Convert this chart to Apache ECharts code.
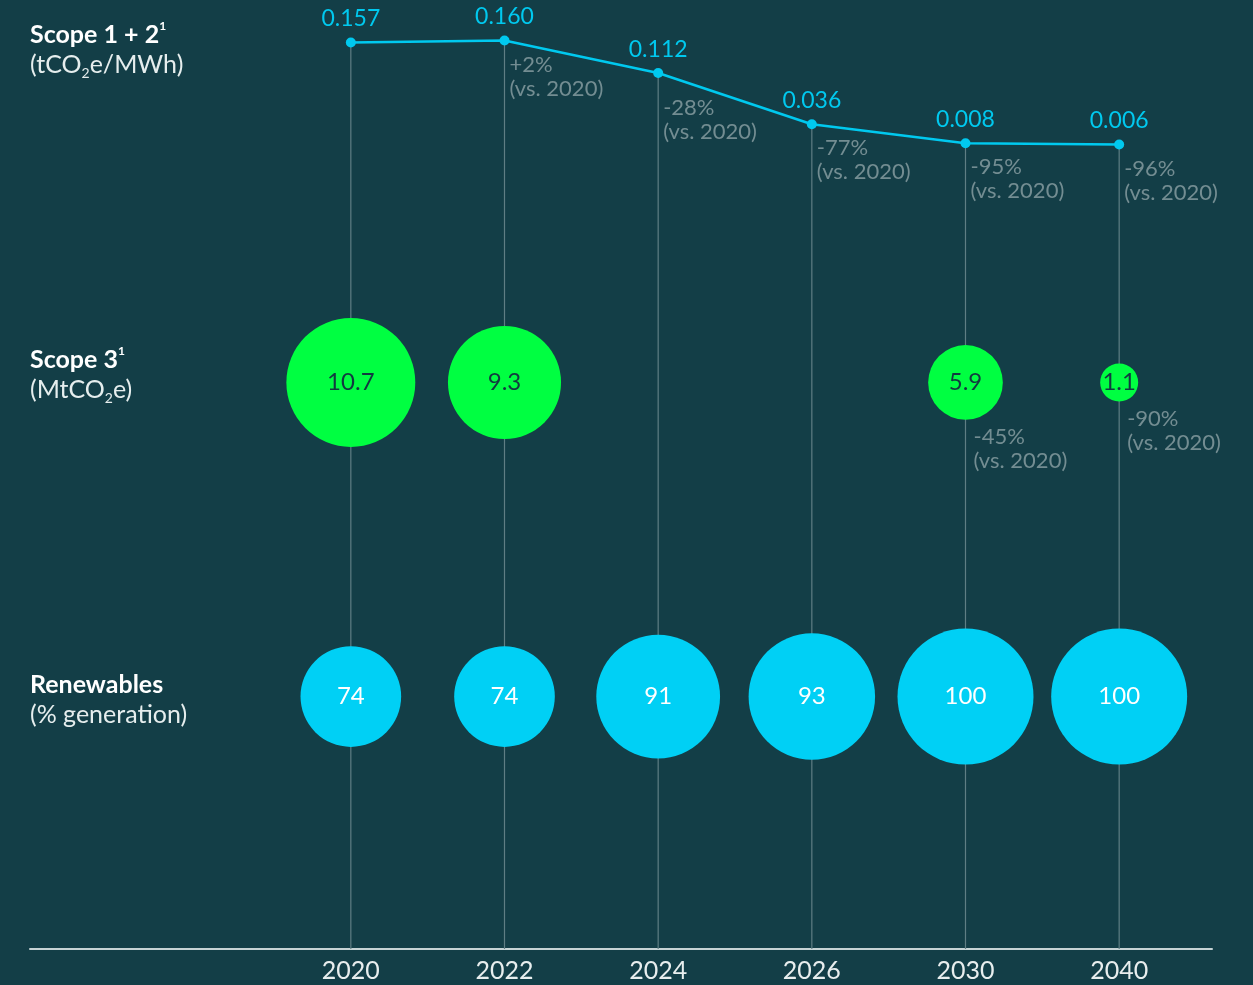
<!DOCTYPE html>
<html>
<head>
<meta charset="utf-8">
<title>Emissions targets</title>
<script src="https://cdn.jsdelivr.net/npm/echarts@6/dist/echarts.min.js"></script>
<style>
	html, body { margin: 0; padding: 0; background: #133e47; }
	#chart01 { width: 1253px; height: 985px; }
</style>
</head>
<body>
<div id="chart01"></div>
<script>
// 데이터
const years = ['2020', '2022', '2024', '2026', '2030', '2040'];
const intensity = [0.157, 0.160, 0.112, 0.036, 0.008, 0.006];           // Scope 1 + 2 (tCO2e/MWh)
const intensityChange = [null, '+2%', '-28%', '-77%', '-95%', '-96%'];
const scope3 = [10.7, 9.3, null, null, 5.9, 1.1];                        // Scope 3 (MtCO2e)
const scope3Change = [null, null, null, null, '-45%', '-90%'];
const renewables = [74, 74, 91, 93, 100, 100];                           // % generation

const FONT = 'Lato';
const BG = '#133e47';
const CYAN = '#00c9ef';
const BUBBLE_CYAN = '#00d0f5';
const GREEN = '#00ff41';
const GREY_TEXT = '#8ca1a5';

// 축 범위 (line 축) / bubble 행 위치
const lineMin = -1.185, lineMax = 0.22;
const scope3Row = 59.7, renewRow = 26.6;

const scope3Size = v => Math.max(8 + v * 11.3, 38);
const renewSize = v => v * 1.36;

const toItems = (arr, row) => arr
	.map((v, i) => (v == null ? null : [i, row, v]))
	.filter(d => d);

const vsLabel = txt => txt ? `${txt}\n(vs. 2020)` : '';

// 좌측 행 제목용 rich 스타일
const titleRich = {
	b: { fontFamily: FONT, fontWeight: 'bold', fontSize: 25, color: '#ffffff', lineHeight: 30 },
	sup: { fontFamily: FONT, fontWeight: 'bold', fontSize: 12, color: '#ffffff', verticalAlign: 'top', lineHeight: 22 },
	n: { fontFamily: FONT, fontWeight: 'normal', fontSize: 25, color: '#e6eeee', lineHeight: 30 },
	sub: { fontFamily: FONT, fontWeight: 'normal', fontSize: 14, color: '#e6eeee', verticalAlign: 'bottom', lineHeight: 16 },
};

const option = {
	backgroundColor: BG,
	animation: false,
	textStyle: { fontFamily: FONT },
	title: [
		{
			left: 30, top: 20, padding: 0,
			text: '{b|Scope 1 + 2}{sup|1}\n{n|(tCO}{sub|2}{n|e/MWh)}',
			textStyle: { fontWeight: 'normal', rich: titleRich },
		},
		{
			left: 30, top: 345, padding: 0,
			text: '{b|Scope 3}{sup|1}\n{n|(MtCO}{sub|2}{n|e)}',
			textStyle: { fontWeight: 'normal', rich: titleRich },
		},
		{
			left: 30, top: 670, padding: 0,
			text: '{b|Renewables}\n{n|(% generation)}',
			textStyle: { fontWeight: 'normal', rich: titleRich },
		},
	],
	grid: [
		{ left: 274, right: 57, top: 0, bottom: 36 },
		{ left: 30, right: 41, top: 0, bottom: 36 },  // 가로 축선 전용
	],
	xAxis: [
		{
			type: 'category',
			gridIndex: 0,
			data: years,
			axisLine: { show: false },
			axisTick: { show: false },
			splitLine: { show: false },
			axisLabel: { color: '#e8eeee', fontSize: 25, fontFamily: FONT, margin: 9 },
		},
		{
			type: 'value',
			gridIndex: 1,
			min: 0, max: 1,
			axisLine: { show: true, lineStyle: { color: '#c6d3d5', width: 2 } },
			axisTick: { show: false },
			axisLabel: { show: false },
			splitLine: { show: false },
		},
	],
	yAxis: [
		{ type: 'value', gridIndex: 0, min: lineMin, max: lineMax, show: false },
		{ type: 'value', gridIndex: 0, min: 0, max: 100, show: false },
		{ type: 'value', gridIndex: 1, min: 0, max: 1, show: false },
	],
	series: [
		// 세로 기준선 (점에서 축까지)
		{
			type: 'custom',
			xAxisIndex: 0, yAxisIndex: 0,
			z: 1,
			silent: true,
			data: intensity.map((v, i) => [i, v]),
			renderItem: function(params, api) {
				const p0 = api.coord([api.value(0), api.value(1)]);
				const p1 = api.coord([api.value(0), lineMin]);
				return {
					type: 'line',
					shape: { x1: p0[0], y1: p0[1], x2: p1[0], y2: p1[1] },
					style: { stroke: '#5f7e84', lineWidth: 1.2 },
				};
			},
		},
		// Scope 1 + 2 라인
		{
			type: 'line',
			xAxisIndex: 0, yAxisIndex: 0,
			z: 3,
			data: intensity,
			symbol: 'circle',
			symbolSize: 10,
			lineStyle: { color: CYAN, width: 2.5 },
			itemStyle: { color: CYAN },
			label: {
				show: true,
				position: 'top',
				distance: 7,
				color: CYAN,
				fontSize: 23,
				fontFamily: FONT,
				formatter: p => p.value.toFixed(3),
			},
		},
		// Scope 1 + 2 변화율 라벨
		{
			type: 'scatter',
			xAxisIndex: 0, yAxisIndex: 0,
			z: 4,
			symbolSize: 0,
			silent: true,
			data: intensity.map((v, i) => [i, v]),
			label: {
				show: true,
				position: [5, 12],
				align: 'left',
				verticalAlign: 'top',
				color: GREY_TEXT,
				fontSize: 22,
				lineHeight: 24,
				fontFamily: FONT,
				formatter: p => vsLabel(intensityChange[p.dataIndex]),
			},
			labelLayout: p => (p.dataIndex === 2 ? { dy: 11 } : {}),
		},
		// Scope 3 버블
		{
			type: 'scatter',
			xAxisIndex: 0, yAxisIndex: 1,
			z: 5,
			data: toItems(scope3, scope3Row),
			symbolSize: val => scope3Size(val[2]),
			itemStyle: { color: GREEN, opacity: 1 },
			label: {
				show: true,
				position: 'inside',
				color: '#123a40',
				fontSize: 24,
				fontFamily: FONT,
				formatter: p => p.value[2],
			},
		},
		// Scope 3 변화율 라벨
		{
			type: 'scatter',
			xAxisIndex: 0, yAxisIndex: 1,
			z: 4,
			silent: true,
			data: toItems(scope3, scope3Row),
			symbolSize: val => scope3Size(val[2]),
			itemStyle: { color: 'rgba(0,0,0,0)' },
			label: {
				show: true,
				position: 'bottom',
				align: 'left',
				distance: 5,
				offset: [8, 0],
				color: GREY_TEXT,
				fontSize: 22,
				lineHeight: 24,
				fontFamily: FONT,
				formatter: p => vsLabel(scope3Change[p.value[0]]),
			},
		},
		// Renewables 버블
		{
			type: 'scatter',
			xAxisIndex: 0, yAxisIndex: 1,
			z: 5,
			data: toItems(renewables, renewRow),
			symbolSize: val => renewSize(val[2]),
			itemStyle: { color: BUBBLE_CYAN, opacity: 1 },
			label: {
				show: true,
				position: 'inside',
				color: '#ffffff',
				fontSize: 24,
				fontFamily: FONT,
				formatter: p => p.value[2],
			},
		},
	],
};

const myChart = echarts.init(document.getElementById('chart01'), null, { renderer: 'canvas' });
myChart.setOption(option);
window.addEventListener('resize', myChart.resize);
</script>
</body>
</html>
